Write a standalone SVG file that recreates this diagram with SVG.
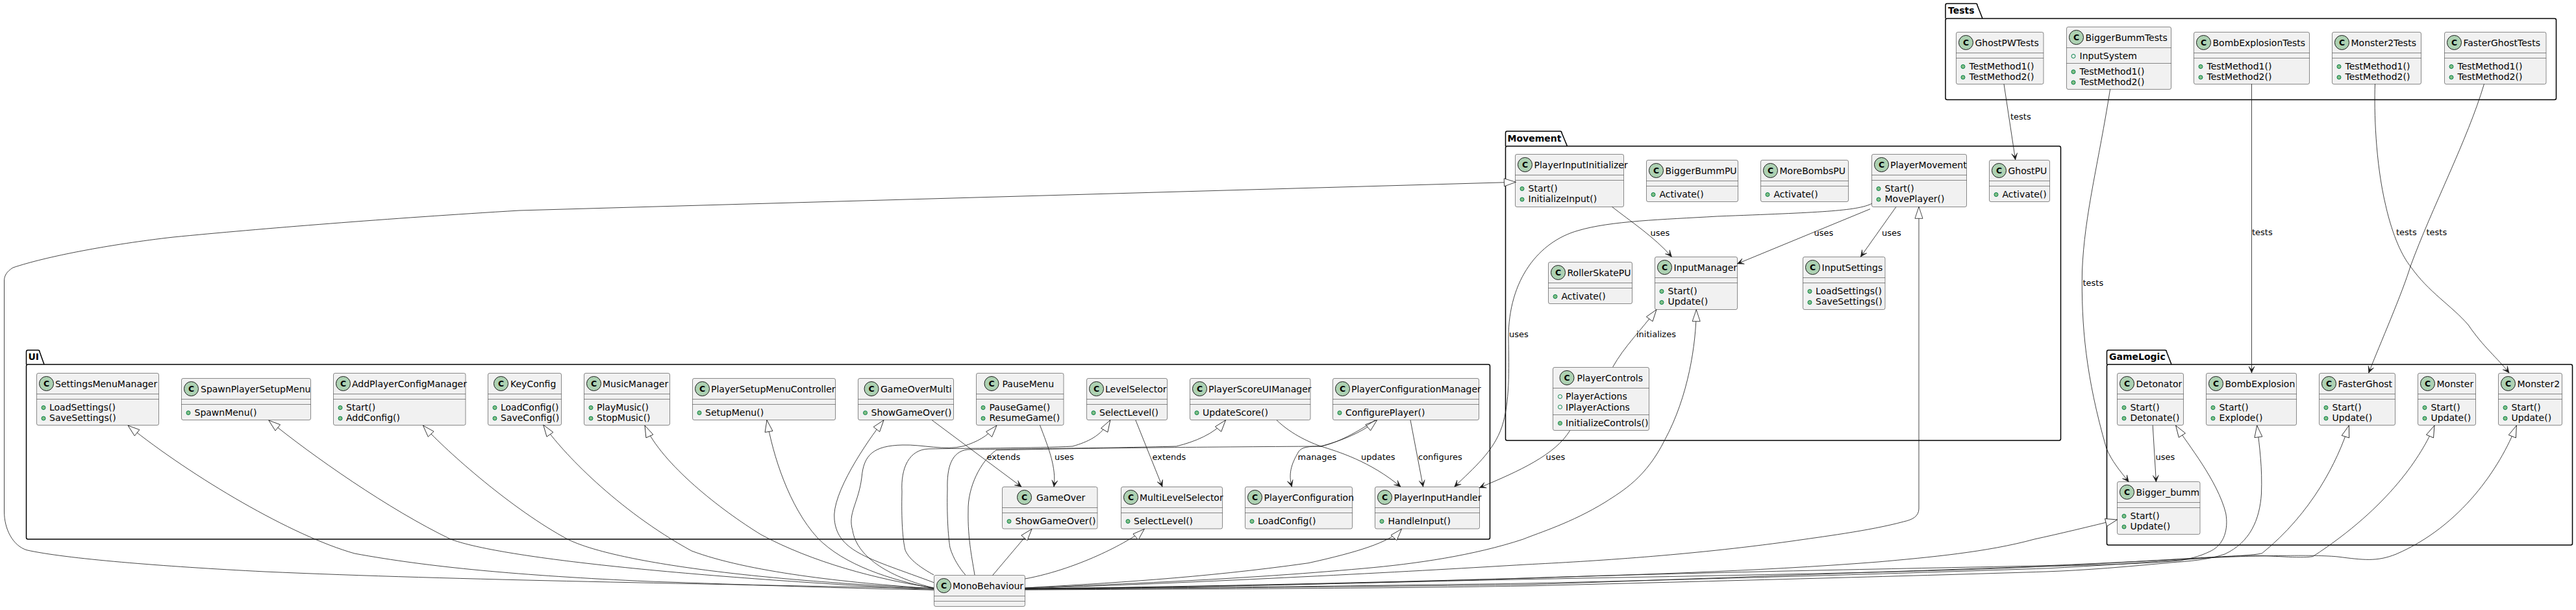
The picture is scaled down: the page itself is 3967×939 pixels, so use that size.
<svg xmlns="http://www.w3.org/2000/svg" width="3967" height="939" viewBox="0 0 3967 939">
<style>
text{font-family:"DejaVu Sans",sans-serif;fill:#000}
.n,.t{font-size:14px}
.e{font-size:13px}
.p{font-size:14px;font-weight:bold}
.g{font-size:12.5px;font-weight:bold;text-anchor:middle}
.b{fill:#F1F1F1;stroke:#181818;stroke-width:.5}
.l{stroke:#181818;stroke-width:.5}
.c{fill:#ADD1B2;stroke:#181818;stroke-width:1}
.d{fill:#84BE84;stroke:#038048;stroke-width:1}
.f{fill:none;stroke:#038048;stroke-width:1}
.k{fill:none;stroke:#000;stroke-width:1.5}
.x{fill:none;stroke:#181818;stroke-width:.8}
.h{marker-start:url(#tri)}
.a{marker-end:url(#arr)}
</style>
<defs>
<marker id="tri" markerUnits="userSpaceOnUse" markerWidth="22" markerHeight="16" refX="19" refY="7" orient="auto-start-reverse" overflow="visible"><path d="M1,1 L19,7 L1,13 Z" fill="#fff" stroke="#181818" stroke-width=".8"/></marker>
<marker id="arr" markerUnits="userSpaceOnUse" markerWidth="14" markerHeight="12" refX="12" refY="6" orient="auto" overflow="visible"><path d="M2,1.5 L12,6 L2,10.5 L7,6 Z" fill="#181818" stroke="#181818" stroke-width=".5"/></marker>
</defs>

<g id="pkg-UI"><path class="k" d="M40.5,561 V541.5 A2.5,2.5 0 0 1 43,539 H58.5 A2.5,2.5 0 0 1 61,541.5 L68,561"/><rect class="k" x="40.5" y="561" width="2254" height="269" rx="2.5"/><text class="p" x="43.5" y="554">UI</text></g>
<g id="pkg-Movement"><path class="k" d="M2318.5,225 V204.5 A2.5,2.5 0 0 1 2321,202 H2402.5 A2.5,2.5 0 0 1 2405,204.5 L2413.5,225"/><rect class="k" x="2318.5" y="225" width="855" height="453" rx="2.5"/><text class="p" x="2321.5" y="218">Movement</text></g>
<g id="pkg-Tests"><path class="k" d="M2996,28.5 V8 A2.5,2.5 0 0 1 2998.5,5.5 H3042.5 A2.5,2.5 0 0 1 3045,8 L3053,28.5"/><rect class="k" x="2996" y="28.5" width="940.5" height="125" rx="2.5"/><text class="p" x="3000" y="21">Tests</text></g>
<g id="pkg-GameLogic"><path class="k" d="M3244.5,561 V541.5 A2.5,2.5 0 0 1 3247,539 H3334 A2.5,2.5 0 0 1 3336.5,541.5 L3344,561"/><rect class="k" x="3244.5" y="561" width="717" height="278" rx="2.5"/><text class="p" x="3248" y="554">GameLogic</text></g>

<g id="SettingsMenuManager" transform="translate(56.5,574.5)"><rect class="b" width="188" height="80" rx="2.5"/><line class="l" x2="188" y1="32" y2="32"/><line class="l" x2="188" y1="40" y2="40"/><circle class="c" cx="15" cy="16" r="11"/><text class="g" x="15" y="20.5">C</text><text class="n" x="28.5" y="21">SettingsMenuManager</text><circle class="d" cx="10.5" cy="53" r="3"/><text class="t" x="19.5" y="57">LoadSettings()</text><circle class="d" cx="10.5" cy="69.5" r="3"/><text class="t" x="19.5" y="73">SaveSettings()</text></g>
<g id="SpawnPlayerSetupMenu" transform="translate(279.5,582.5)"><rect class="b" width="199" height="64" rx="2.5"/><line class="l" x2="199" y1="32" y2="32"/><line class="l" x2="199" y1="40" y2="40"/><circle class="c" cx="15" cy="16" r="11"/><text class="g" x="15" y="20.5">C</text><text class="n" x="29.5" y="21">SpawnPlayerSetupMenu</text><circle class="d" cx="10.5" cy="53" r="3"/><text class="t" x="20" y="57">SpawnMenu()</text></g>
<g id="AddPlayerConfigManager" transform="translate(513.5,574.5)"><rect class="b" width="203.5" height="80" rx="2.5"/><line class="l" x2="203.5" y1="32" y2="32"/><line class="l" x2="203.5" y1="40" y2="40"/><circle class="c" cx="15" cy="16" r="11"/><text class="g" x="15" y="20.5">C</text><text class="n" x="28.5" y="21">AddPlayerConfigManager</text><circle class="d" cx="10.5" cy="53" r="3"/><text class="t" x="19.5" y="57">Start()</text><circle class="d" cx="10.5" cy="69.5" r="3"/><text class="t" x="19.5" y="73">AddConfig()</text></g>
<g id="KeyConfig" transform="translate(751.5,574.5)"><rect class="b" width="113" height="80" rx="2.5"/><line class="l" x2="113" y1="32" y2="32"/><line class="l" x2="113" y1="40" y2="40"/><circle class="c" cx="20" cy="16" r="11"/><text class="g" x="20" y="20.5">C</text><text class="n" x="34.5" y="21">KeyConfig</text><circle class="d" cx="10.5" cy="53" r="3"/><text class="t" x="19.5" y="57">LoadConfig()</text><circle class="d" cx="10.5" cy="69.5" r="3"/><text class="t" x="19.5" y="73">SaveConfig()</text></g>
<g id="MusicManager" transform="translate(899.5,574.5)"><rect class="b" width="132" height="80" rx="2.5"/><line class="l" x2="132" y1="32" y2="32"/><line class="l" x2="132" y1="40" y2="40"/><circle class="c" cx="15" cy="16" r="11"/><text class="g" x="15" y="20.5">C</text><text class="n" x="28.5" y="21">MusicManager</text><circle class="d" cx="10.5" cy="53" r="3"/><text class="t" x="19.5" y="57">PlayMusic()</text><circle class="d" cx="10.5" cy="69.5" r="3"/><text class="t" x="19.5" y="73">StopMusic()</text></g>
<g id="PlayerSetupMenuController" transform="translate(1066.5,582.5)"><rect class="b" width="220" height="64" rx="2.5"/><line class="l" x2="220" y1="32" y2="32"/><line class="l" x2="220" y1="40" y2="40"/><circle class="c" cx="15" cy="16" r="11"/><text class="g" x="15" y="20.5">C</text><text class="n" x="28.5" y="21">PlayerSetupMenuController</text><circle class="d" cx="10.5" cy="53" r="3"/><text class="t" x="19.5" y="57">SetupMenu()</text></g>
<g id="GameOverMulti" transform="translate(1321.5,582.5)"><rect class="b" width="147" height="64" rx="2.5"/><line class="l" x2="147" y1="32" y2="32"/><line class="l" x2="147" y1="40" y2="40"/><circle class="c" cx="20.5" cy="16" r="11"/><text class="g" x="20.5" y="20.5">C</text><text class="n" x="34.5" y="21">GameOverMulti</text><circle class="d" cx="11" cy="53" r="3"/><text class="t" x="20" y="57">ShowGameOver()</text></g>
<g id="PauseMenu" transform="translate(1503.5,574.5)"><rect class="b" width="134.5" height="80" rx="2.5"/><line class="l" x2="134.5" y1="32" y2="32"/><line class="l" x2="134.5" y1="40" y2="40"/><circle class="c" cx="23.5" cy="16" r="11"/><text class="g" x="23.5" y="20.5">C</text><text class="n" x="40" y="21">PauseMenu</text><circle class="d" cx="10.5" cy="53" r="3"/><text class="t" x="20" y="57">PauseGame()</text><circle class="d" cx="10.5" cy="69.5" r="3"/><text class="t" x="20" y="73">ResumeGame()</text></g>
<g id="LevelSelector" transform="translate(1673.5,582.5)"><rect class="b" width="124" height="64" rx="2.5"/><line class="l" x2="124" y1="32" y2="32"/><line class="l" x2="124" y1="40" y2="40"/><circle class="c" cx="15" cy="16" r="11"/><text class="g" x="15" y="20.5">C</text><text class="n" x="28.5" y="21">LevelSelector</text><circle class="d" cx="10.5" cy="53" r="3"/><text class="t" x="19.5" y="57">SelectLevel()</text></g>
<g id="PlayerScoreUIManager" transform="translate(1832.5,582.5)"><rect class="b" width="185.5" height="64" rx="2.5"/><line class="l" x2="185.5" y1="32" y2="32"/><line class="l" x2="185.5" y1="40" y2="40"/><circle class="c" cx="15" cy="16" r="11"/><text class="g" x="15" y="20.5">C</text><text class="n" x="28.5" y="21">PlayerScoreUIManager</text><circle class="d" cx="10.5" cy="53" r="3"/><text class="t" x="19.5" y="57">UpdateScore()</text></g>
<g id="PlayerConfigurationManager" transform="translate(2052.5,582.5)"><rect class="b" width="225" height="64" rx="2.5"/><line class="l" x2="225" y1="32" y2="32"/><line class="l" x2="225" y1="40" y2="40"/><circle class="c" cx="15" cy="16" r="11"/><text class="g" x="15" y="20.5">C</text><text class="n" x="28.5" y="21">PlayerConfigurationManager</text><circle class="d" cx="10.5" cy="53" r="3"/><text class="t" x="19.5" y="57">ConfigurePlayer()</text></g>
<g id="GameOver" transform="translate(1543.5,749.5)"><rect class="b" width="146.5" height="64.5" rx="2.5"/><line class="l" x2="146.5" y1="32" y2="32"/><line class="l" x2="146.5" y1="40" y2="40"/><circle class="c" cx="34" cy="16" r="11"/><text class="g" x="34" y="20.5">C</text><text class="n" x="52.5" y="21">GameOver</text><circle class="d" cx="10.5" cy="53" r="3"/><text class="t" x="20" y="57">ShowGameOver()</text></g>
<g id="MultiLevelSelector" transform="translate(1726.5,749.5)"><rect class="b" width="156" height="64.5" rx="2.5"/><line class="l" x2="156" y1="32" y2="32"/><line class="l" x2="156" y1="40" y2="40"/><circle class="c" cx="15" cy="16" r="11"/><text class="g" x="15" y="20.5">C</text><text class="n" x="28.5" y="21">MultiLevelSelector</text><circle class="d" cx="10.5" cy="53" r="3"/><text class="t" x="19.5" y="57">SelectLevel()</text></g>
<g id="PlayerConfiguration" transform="translate(1917.5,749.5)"><rect class="b" width="165" height="64.5" rx="2.5"/><line class="l" x2="165" y1="32" y2="32"/><line class="l" x2="165" y1="40" y2="40"/><circle class="c" cx="15" cy="16" r="11"/><text class="g" x="15" y="20.5">C</text><text class="n" x="29" y="21">PlayerConfiguration</text><circle class="d" cx="10.5" cy="53" r="3"/><text class="t" x="19.5" y="57">LoadConfig()</text></g>
<g id="PlayerInputHandler" transform="translate(2117.5,749.5)"><rect class="b" width="161" height="64.5" rx="2.5"/><line class="l" x2="161" y1="32" y2="32"/><line class="l" x2="161" y1="40" y2="40"/><circle class="c" cx="15" cy="16" r="11"/><text class="g" x="15" y="20.5">C</text><text class="n" x="29" y="21">PlayerInputHandler</text><circle class="d" cx="10.5" cy="53" r="3"/><text class="t" x="20" y="57">HandleInput()</text></g>
<g id="MonoBehaviour" transform="translate(1438.5,885.5)"><rect class="b" width="140" height="48" rx="2.5"/><line class="l" x2="140" y1="32" y2="32"/><line class="l" x2="140" y1="40" y2="40"/><circle class="c" cx="15" cy="16" r="11"/><text class="g" x="15" y="20.5">C</text><text class="n" x="28.5" y="21">MonoBehaviour</text></g>

<g id="PlayerInputInitializer" transform="translate(2333.5,237.5)"><rect class="b" width="167" height="81" rx="2.5"/><line class="l" x2="167" y1="32" y2="32"/><line class="l" x2="167" y1="40" y2="40"/><circle class="c" cx="15" cy="16" r="11"/><text class="g" x="15" y="20.5">C</text><text class="n" x="29" y="21">PlayerInputInitializer</text><circle class="d" cx="10.5" cy="53" r="3"/><text class="t" x="20" y="57">Start()</text><circle class="d" cx="10.5" cy="69.5" r="3"/><text class="t" x="20" y="73">InitializeInput()</text></g>
<g id="BiggerBummPU" transform="translate(2535.5,246.5)"><rect class="b" width="141" height="64" rx="2.5"/><line class="l" x2="141" y1="32" y2="32"/><line class="l" x2="141" y1="40" y2="40"/><circle class="c" cx="15" cy="16" r="11"/><text class="g" x="15" y="20.5">C</text><text class="n" x="29" y="21">BiggerBummPU</text><circle class="d" cx="10.5" cy="53" r="3"/><text class="t" x="20" y="57">Activate()</text></g>
<g id="MoreBombsPU" transform="translate(2711.5,246.5)"><rect class="b" width="135" height="64" rx="2.5"/><line class="l" x2="135" y1="32" y2="32"/><line class="l" x2="135" y1="40" y2="40"/><circle class="c" cx="15" cy="16" r="11"/><text class="g" x="15" y="20.5">C</text><text class="n" x="29" y="21">MoreBombsPU</text><circle class="d" cx="10.5" cy="53" r="3"/><text class="t" x="20" y="57">Activate()</text></g>
<g id="PlayerMovement" transform="translate(2882.5,237.5)"><rect class="b" width="146" height="81" rx="2.5"/><line class="l" x2="146" y1="32" y2="32"/><line class="l" x2="146" y1="40" y2="40"/><circle class="c" cx="15" cy="16" r="11"/><text class="g" x="15" y="20.5">C</text><text class="n" x="28.5" y="21">PlayerMovement</text><circle class="d" cx="10.5" cy="53" r="3"/><text class="t" x="20" y="57">Start()</text><circle class="d" cx="10.5" cy="69.5" r="3"/><text class="t" x="20" y="73">MovePlayer()</text></g>
<g id="GhostPU" transform="translate(3063.5,246.5)"><rect class="b" width="93" height="64" rx="2.5"/><line class="l" x2="93" y1="32" y2="32"/><line class="l" x2="93" y1="40" y2="40"/><circle class="c" cx="15" cy="16" r="11"/><text class="g" x="15" y="20.5">C</text><text class="n" x="29" y="21">GhostPU</text><circle class="d" cx="10.5" cy="53" r="3"/><text class="t" x="20" y="57">Activate()</text></g>
<g id="RollerSkatePU" transform="translate(2384.5,403.5)"><rect class="b" width="129" height="64" rx="2.5"/><line class="l" x2="129" y1="32" y2="32"/><line class="l" x2="129" y1="40" y2="40"/><circle class="c" cx="15" cy="16" r="11"/><text class="g" x="15" y="20.5">C</text><text class="n" x="29" y="21">RollerSkatePU</text><circle class="d" cx="10.5" cy="53" r="3"/><text class="t" x="20" y="57">Activate()</text></g>
<g id="InputManager" transform="translate(2548.5,395.5)"><rect class="b" width="127" height="81" rx="2.5"/><line class="l" x2="127" y1="32" y2="32"/><line class="l" x2="127" y1="40" y2="40"/><circle class="c" cx="15" cy="16" r="11"/><text class="g" x="15" y="20.5">C</text><text class="n" x="29" y="21">InputManager</text><circle class="d" cx="10.5" cy="53" r="3"/><text class="t" x="20" y="57">Start()</text><circle class="d" cx="10.5" cy="70" r="3"/><text class="t" x="20" y="73.5">Update()</text></g>
<g id="InputSettings" transform="translate(2776.5,395.5)"><rect class="b" width="126.5" height="81" rx="2.5"/><line class="l" x2="126.5" y1="32" y2="32"/><line class="l" x2="126.5" y1="40" y2="40"/><circle class="c" cx="15" cy="16" r="11"/><text class="g" x="15" y="20.5">C</text><text class="n" x="29" y="21">InputSettings</text><circle class="d" cx="10.5" cy="53" r="3"/><text class="t" x="19.5" y="57">LoadSettings()</text><circle class="d" cx="10.5" cy="70" r="3"/><text class="t" x="19.5" y="73.5">SaveSettings()</text></g>
<g id="PlayerControls" transform="translate(2391.5,565.5)"><rect class="b" width="148" height="97" rx="2.5"/><line class="l" x2="148" y1="32" y2="32"/><line class="l" x2="148" y1="73" y2="73"/><circle class="c" cx="21.5" cy="16" r="11"/><text class="g" x="21.5" y="20.5">C</text><text class="n" x="37" y="21">PlayerControls</text><circle class="f" cx="11" cy="45" r="3"/><text class="t" x="19.5" y="49.5">PlayerActions</text><circle class="f" cx="11" cy="61" r="3"/><text class="t" x="19.5" y="66">IPlayerActions</text><circle class="d" cx="11" cy="86" r="3"/><text class="t" x="19.5" y="90.5">InitializeControls()</text></g>

<g id="GhostPWTests" transform="translate(3012.5,49.5)"><rect class="b" width="134.5" height="80" rx="2.5"/><line class="l" x2="134.5" y1="32" y2="32"/><line class="l" x2="134.5" y1="40" y2="40"/><circle class="c" cx="15" cy="16" r="11"/><text class="g" x="15" y="20.5">C</text><text class="n" x="29" y="21">GhostPWTests</text><circle class="d" cx="10.5" cy="53" r="3"/><text class="t" x="20" y="57">TestMethod1()</text><circle class="d" cx="10.5" cy="69.5" r="3"/><text class="t" x="20" y="73">TestMethod2()</text></g>
<g id="BiggerBummTests" transform="translate(3182.5,41.5)"><rect class="b" width="161" height="96" rx="2.5"/><line class="l" x2="161" y1="32" y2="32"/><line class="l" x2="161" y1="56" y2="56"/><circle class="c" cx="15" cy="16" r="11"/><text class="g" x="15" y="20.5">C</text><text class="n" x="29" y="21">BiggerBummTests</text><circle class="f" cx="10.5" cy="45" r="3"/><text class="t" x="20" y="49.5">InputSystem</text><circle class="d" cx="10.5" cy="69" r="3"/><text class="t" x="20" y="73">TestMethod1()</text><circle class="d" cx="10.5" cy="85.5" r="3"/><text class="t" x="20" y="89.5">TestMethod2()</text></g>
<g id="BombExplosionTests" transform="translate(3378.5,49.5)"><rect class="b" width="178" height="80" rx="2.5"/><line class="l" x2="178" y1="32" y2="32"/><line class="l" x2="178" y1="40" y2="40"/><circle class="c" cx="15" cy="16" r="11"/><text class="g" x="15" y="20.5">C</text><text class="n" x="29" y="21">BombExplosionTests</text><circle class="d" cx="10.5" cy="53" r="3"/><text class="t" x="20" y="57">TestMethod1()</text><circle class="d" cx="10.5" cy="69.5" r="3"/><text class="t" x="20" y="73">TestMethod2()</text></g>
<g id="Monster2Tests" transform="translate(3591.5,49.5)"><rect class="b" width="137" height="80" rx="2.5"/><line class="l" x2="137" y1="32" y2="32"/><line class="l" x2="137" y1="40" y2="40"/><circle class="c" cx="15" cy="16" r="11"/><text class="g" x="15" y="20.5">C</text><text class="n" x="29" y="21">Monster2Tests</text><circle class="d" cx="10.5" cy="53" r="3"/><text class="t" x="20" y="57">TestMethod1()</text><circle class="d" cx="10.5" cy="69.5" r="3"/><text class="t" x="20" y="73">TestMethod2()</text></g>
<g id="FasterGhostTests" transform="translate(3764.5,49.5)"><rect class="b" width="156.5" height="80" rx="2.5"/><line class="l" x2="156.5" y1="32" y2="32"/><line class="l" x2="156.5" y1="40" y2="40"/><circle class="c" cx="15" cy="16" r="11"/><text class="g" x="15" y="20.5">C</text><text class="n" x="29" y="21">FasterGhostTests</text><circle class="d" cx="10.5" cy="53" r="3"/><text class="t" x="20" y="57">TestMethod1()</text><circle class="d" cx="10.5" cy="69.5" r="3"/><text class="t" x="20" y="73">TestMethod2()</text></g>

<g id="Detonator" transform="translate(3260.5,574.5)"><rect class="b" width="102" height="80" rx="2.5"/><line class="l" x2="102" y1="32" y2="32"/><line class="l" x2="102" y1="40" y2="40"/><circle class="c" cx="15" cy="16" r="11"/><text class="g" x="15" y="20.5">C</text><text class="n" x="29" y="21">Detonator</text><circle class="d" cx="10.5" cy="53" r="3"/><text class="t" x="20" y="57">Start()</text><circle class="d" cx="10.5" cy="69.5" r="3"/><text class="t" x="20" y="73">Detonate()</text></g>
<g id="BombExplosion" transform="translate(3397.5,574.5)"><rect class="b" width="139" height="80" rx="2.5"/><line class="l" x2="139" y1="32" y2="32"/><line class="l" x2="139" y1="40" y2="40"/><circle class="c" cx="15" cy="16" r="11"/><text class="g" x="15" y="20.5">C</text><text class="n" x="29" y="21">BombExplosion</text><circle class="d" cx="10.5" cy="53" r="3"/><text class="t" x="20" y="57">Start()</text><circle class="d" cx="10.5" cy="69.5" r="3"/><text class="t" x="20" y="73">Explode()</text></g>
<g id="FasterGhost" transform="translate(3571.5,574.5)"><rect class="b" width="117" height="80" rx="2.5"/><line class="l" x2="117" y1="32" y2="32"/><line class="l" x2="117" y1="40" y2="40"/><circle class="c" cx="15" cy="16" r="11"/><text class="g" x="15" y="20.5">C</text><text class="n" x="29" y="21">FasterGhost</text><circle class="d" cx="10.5" cy="53" r="3"/><text class="t" x="20" y="57">Start()</text><circle class="d" cx="10.5" cy="69.5" r="3"/><text class="t" x="20" y="73">Update()</text></g>
<g id="Monster" transform="translate(3723.5,574.5)"><rect class="b" width="89" height="80" rx="2.5"/><line class="l" x2="89" y1="32" y2="32"/><line class="l" x2="89" y1="40" y2="40"/><circle class="c" cx="15" cy="16" r="11"/><text class="g" x="15" y="20.5">C</text><text class="n" x="29" y="21">Monster</text><circle class="d" cx="10.5" cy="53" r="3"/><text class="t" x="20" y="57">Start()</text><circle class="d" cx="10.5" cy="69.5" r="3"/><text class="t" x="20" y="73">Update()</text></g>
<g id="Monster2" transform="translate(3847.5,574.5)"><rect class="b" width="98" height="80" rx="2.5"/><line class="l" x2="98" y1="32" y2="32"/><line class="l" x2="98" y1="40" y2="40"/><circle class="c" cx="15" cy="16" r="11"/><text class="g" x="15" y="20.5">C</text><text class="n" x="29" y="21">Monster2</text><circle class="d" cx="10.5" cy="53" r="3"/><text class="t" x="20" y="57">Start()</text><circle class="d" cx="10.5" cy="69.5" r="3"/><text class="t" x="20" y="73">Update()</text></g>
<g id="Bigger_bumm" transform="translate(3260.5,741.5)"><rect class="b" width="127.5" height="81" rx="2.5"/><line class="l" x2="127.5" y1="32" y2="32"/><line class="l" x2="127.5" y1="40" y2="40"/><circle class="c" cx="15" cy="16" r="11"/><text class="g" x="15" y="20.5">C</text><text class="n" x="29" y="21">Bigger_bumm</text><circle class="d" cx="10.5" cy="53" r="3"/><text class="t" x="20" y="57">Start()</text><circle class="d" cx="10.5" cy="69.5" r="3"/><text class="t" x="20" y="73.5">Update()</text></g>

<g id="connectors">
<path class="x h" d="M197,655 C297,735 450,825 546,852 C660,873 800,886 1000,895 C1150,900 1300,906 1438,908"/>
<path class="x h" d="M413.8,647 C480,701 600,785 694,830 C760,855 1000,885 1438,908"/>
<path class="x h" d="M651.5,655 C690,697 790,785 874,830 C930,858 1100,890 1438,906"/>
<path class="x h" d="M836.7,654 C865,695 950,785 1065,848 C1150,880 1300,897 1438,906"/>
<path class="x h" d="M993,655 C1020,715 1110,785 1172,823 C1250,865 1350,892 1438,905"/>
<path class="x h" d="M1181,646.7 C1190,700 1215,780 1259,828 C1300,870 1370,892 1438,906"/>
<path class="x h" d="M1361,646.7 C1335,680 1280,760 1285,800 C1290,850 1340,860 1438,896.7"/>
<path class="x h" d="M1535,655 C1520,672 1505,680 1484,686.7 C1455,694 1420,684 1390,685 C1345,686 1330,700 1327,735 C1322,775 1305,790 1313,816.7 C1320,860 1375,890 1438,905"/>
<path class="x h" d="M1709.8,646.7 C1695,672 1675,680 1652,687 C1600,690 1480,690 1430,691 C1400,692 1387,720 1389,757 C1388,800 1390,830 1394,846.7 C1400,862 1420,875 1438,885"/>
<path class="x h" d="M1887.5,646.7 C1870,668 1840,680 1811.6,687 C1700,690 1550,691 1490,692 C1465,695 1458,720 1459,753 C1458,790 1460,825 1463,843 C1468,860 1478,875 1486.7,885"/>
<path class="x h" d="M2120.6,646.7 C2095,668 2060,680 2034,687 C1850,688 1650,690 1534,693 C1510,710 1490,750 1491,787 C1490,830 1498,865 1501,885"/>
<path class="x h" d="M1589,814.3 L1528.6,885.7"/>
<path class="x h" d="M1762.3,814.3 C1745,830 1665,875 1578.6,891"/>
<path class="x h" d="M2158.5,814.3 C2140,835 2090,850 2015,866.7 C1850,890 1700,898 1578.6,905"/>
<path class="x h" d="M2612.3,476.7 C2612,530 2600,610 2564,676.7 C2535,735 2500,755 2472,773 C2420,805 2370,820 2345.7,830 C2270,855 2180,868 2100,875 C1900,893 1700,900 1578.6,905"/>
<path class="x h" d="M2955,318.3 V783 C2955,795 2945,800 2931.5,803 C2880,817 2800,827 2759,833 C2600,855 2450,864 2350,869 C2200,878 1900,895 1578.6,906"/>
<path class="x h" d="M3260.5,800 C3220,810 3170,822 3133,830 C3060,850 2970,858 2892,865 C2700,880 2500,885 2350,890 C2100,898 1800,905 1578.6,907"/>
<path class="x h" d="M3350.6,655 C3370,685 3415,740 3427.7,790 C3432,815 3425,838 3405,848 C3385,858 3370,860 3358,863 C3300,868 3220,870 3150,871.7 C3000,880 2700,885 2350,891.7 C2100,897 1800,905 1578.6,906"/>
<path class="x h" d="M3475.7,655 C3480,690 3484,720 3482.5,760 C3480,800 3465,835 3426,853 C3400,862 3370,864 3343,866 C3280,872 3210,878 3150,880 C3000,885 2700,893 2350,902 C2100,906 1800,907 1578.6,908"/>
<path class="x h" d="M3617.4,655 C3600,710 3560,790 3483.5,851.7 C3470,855 3440,856 3384.5,860 C3300,866 3230,871 3150,875 C3000,880 2700,890 2350,898 C2100,902 1800,905 1578.6,907"/>
<path class="x h" d="M3749,655 C3730,700 3680,780 3561.7,856.7 C3540,860 3500,855 3462.7,855 C3400,857 3280,866 3150,871.7 C2950,878 2700,888 2350,900 C2100,903 1800,906 1578.6,907"/>
<path class="x h" d="M3875.4,655 C3850,720 3790,810 3690,853 C3660,865 3640,862 3600,857 C3570,854 3500,855 3410,858 C3300,864 3220,868 3150,870.7 C2950,875 2650,880 2350,890 C2100,897 1800,904 1578.6,906"/>
<path class="x h" d="M2334.4,280.3 L800,324 C600,336 400,352 267,365 C170,376 70,395 20,412 C10,418 6.5,425 6.5,432 V787 C6.5,815 20,840 41,846.7 C100,860 250,872 408,880 C700,893 1100,899 1438,906"/>
<path class="x h" d="M2550.9,476.7 C2530,505 2500,535 2483.7,565"/>
<path class="x a" d="M3086,129.3 L3103.7,246"/>
<path class="x a" d="M3249.6,137.3 C3232,250 3210,330 3206.5,417 C3205,500 3212,580 3243.8,690 C3252,710 3265,725 3278.2,741.7"/>
<path class="x a" d="M3467.5,129.3 V574"/>
<path class="x a" d="M3657.5,129.3 C3656,170 3658,250 3674,316.7 C3685,365 3700,395 3712,410 C3740,450 3775,470 3801,500 C3825,535 3845,550 3864,574"/>
<path class="x a" d="M3825.5,129.3 C3800,215 3745,320 3712,410 C3700,450 3665,530 3647.7,574"/>
<path class="x a" d="M2482.5,318.3 C2510,340 2548,365 2574.4,395.3"/>
<path class="x a" d="M2880,321.7 L2675.4,406"/>
<path class="x a" d="M2920,318.3 L2865.4,395.3"/>
<path class="x a" d="M2882.7,313.3 C2860,325 2800,327 2644.4,333 C2560,338 2480,340 2430,355 C2370,372 2323,430 2323,520 C2324,570 2325,620 2313,656.7 C2300,695 2270,720 2239.8,749.3"/>
<path class="x a" d="M2417.7,662.7 C2395,700 2340,725 2278.3,750.7"/>
<path class="x a" d="M1435.2,646.7 L1573,749.3"/>
<path class="x a" d="M1601.4,654.3 C1615,690 1627,720 1623,749.3"/>
<path class="x a" d="M1748.8,646.7 L1790,749.3"/>
<path class="x a" d="M1966,646.7 C1990,670 2020,682 2034,687 C2060,695 2110,710 2157,749.3"/>
<path class="x a" d="M2172,646.7 L2191.6,749.3"/>
<path class="x a" d="M2118,646.7 C2090,665 2060,682 2034,687 C2015,687 2005,688 2000,695 C1988,715 1984,730 1989.4,749.3"/>
<path class="x a" d="M3315.2,654.7 L3320.4,741.7"/>
<text class="e" x="3096" y="183.5">tests</text>
<text class="e" x="3207.5" y="440">tests</text>
<text class="e" x="3468" y="362">tests</text>
<text class="e" x="3690" y="362">tests</text>
<text class="e" x="3736.5" y="362">tests</text>
<text class="e" x="2541.5" y="362.5">uses</text>
<text class="e" x="2793.5" y="362.5">uses</text>
<text class="e" x="2898" y="362.5">uses</text>
<text class="e" x="2324" y="519">uses</text>
<text class="e" x="2520" y="519">initializes</text>
<text class="e" x="2380.5" y="708">uses</text>
<text class="e" x="1519.5" y="708">extends</text>
<text class="e" x="1624" y="708">uses</text>
<text class="e" x="1774.5" y="708">extends</text>
<text class="e" x="1998.5" y="708">manages</text>
<text class="e" x="2096" y="708">updates</text>
<text class="e" x="2184" y="708">configures</text>
<text class="e" x="3319.5" y="708">uses</text>
</g>
</svg>
